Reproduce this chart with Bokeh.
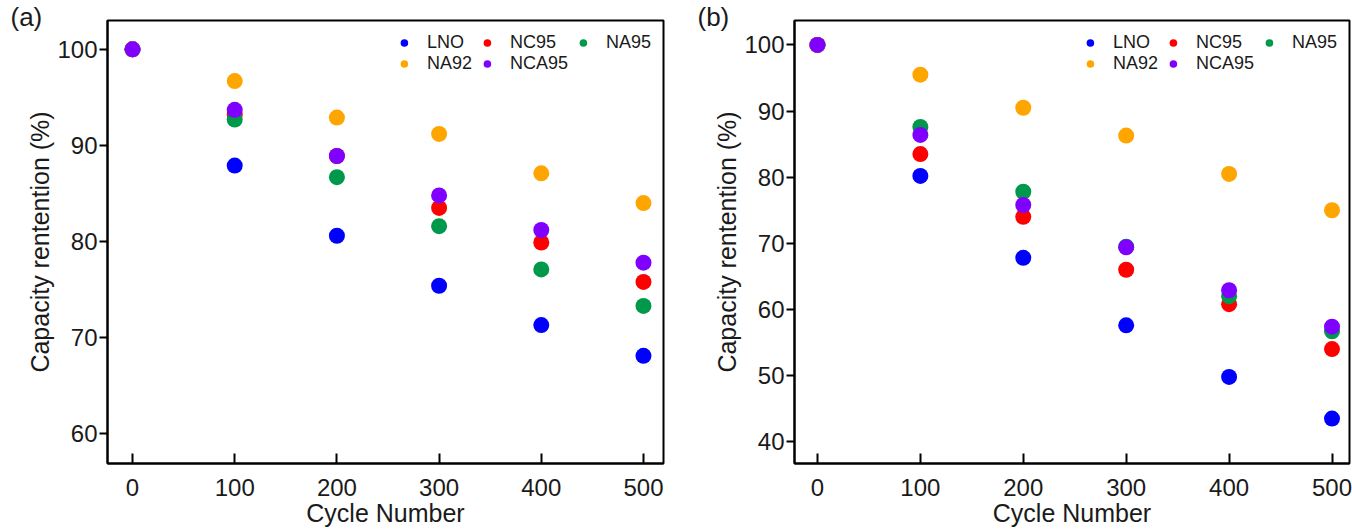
from bokeh.plotting import figure
from bokeh.layouts import row
from bokeh.models import Range1d, Legend, LegendItem, Title, FixedTicker
from bokeh.embed import file_html
from bokeh.resources import INLINE

cycles = [0, 100, 200, 300, 400, 500]
names = ["LNO", "NC95", "NA95", "NA92", "NCA95"]
colors = ["#0000FF", "#FF0000", "#00994C", "#FFA500", "#7F00FF"]

a_LNO = [100, 87.9, 80.6, 75.4, 71.3, 68.1]
a_NC95 = [100, 93.2, 88.9, 83.5, 79.9, 75.8]
a_NA95 = [100, 92.7, 86.7, 81.6, 77.1, 73.3]
a_NA92 = [100, 96.7, 92.9, 91.2, 87.1, 84.0]
a_NCA95 = [100, 93.7, 88.9, 84.8, 81.2, 77.8]

b_LNO = [100, 80.2, 67.8, 57.6, 49.8, 43.5]
b_NC95 = [100, 83.5, 74.0, 66.0, 60.8, 54.0]
b_NA95 = [100, 87.6, 77.8, 69.5, 62.0, 56.7]
b_NA92 = [100, 95.5, 90.5, 86.3, 80.5, 75.0]
b_NCA95 = [100, 86.4, 75.8, 69.4, 62.9, 57.4]

FONT = "Liberation Sans"
TXT = "#1a1a1a"


def make(series, xr, yr, yticks, tag, tag_off, width, left, right):
    p = figure(width=width, height=530, output_backend="svg", toolbar_location=None,
               x_range=Range1d(*xr), y_range=Range1d(*yr),
               min_border_left=left, min_border_right=right,
               min_border_top=20, min_border_bottom=67,
               title=Title(text=tag, align="left", offset=tag_off, standoff=-22,
                           text_font=FONT, text_font_size="26px",
                           text_font_style="normal", text_color=TXT))
    p.grid.visible = False
    p.outline_line_color = "black"
    p.outline_line_width = 2
    p.background_fill_color = "white"
    p.border_fill_color = "white"
    items = []
    for nm, col, ys in zip(names, colors, series):
        r = p.scatter(cycles, ys, size=16, color=col, line_color=None)
        items.append(LegendItem(label=nm, renderers=[r]))
    for ax in (p.xaxis[0], p.yaxis[0]):
        ax.axis_line_width = 2
        ax.major_tick_line_width = 2
        ax.minor_tick_line_color = None
        ax.major_label_text_font = FONT
        ax.major_label_text_font_size = "24px"
        ax.major_label_text_color = TXT
        ax.axis_label_text_font = FONT
        ax.axis_label_text_font_size = "25px"
        ax.axis_label_text_font_style = "normal"
        ax.axis_label_text_color = TXT
    p.xaxis.ticker = FixedTicker(ticks=cycles)
    p.xaxis.major_tick_in = 10
    p.xaxis.major_tick_out = 0
    p.xaxis.major_label_standoff = 15
    p.xaxis.axis_label = "Cycle Number"
    p.xaxis.axis_label_standoff = 0
    p.yaxis.ticker = FixedTicker(ticks=yticks)
    p.yaxis.major_tick_in = 0
    p.yaxis.major_tick_out = 8
    p.yaxis.major_label_standoff = 2
    p.yaxis.axis_label = "Capacity rentention (%)"
    p.yaxis.axis_label_standoff = 0
    leg = Legend(items=items, orientation="horizontal", location="top_right",
                 ncols=3, border_line_color=None, background_fill_alpha=0,
                 label_text_font=FONT, label_text_font_size="18px",
                 label_text_color=TXT, label_height=19,
                 glyph_width=30, glyph_height=19, spacing=0, padding=0, margin=12,
                 label_standoff=8)
    p.add_layout(leg, "center")
    return p


pa = make([a_LNO, a_NC95, a_NA95, a_NA92, a_NCA95], (-24.5, 519.6), (56.9, 103.0),
          [60, 70, 80, 90, 100], "(a)", -97, 690, 107, 27)
pb = make([b_LNO, b_NC95, b_NA95, b_NA92, b_NCA95], (-22.3, 517.0), (36.7, 103.7),
          [40, 50, 60, 70, 80, 90, 100], "(b)", -97, 662, 104, 3)

lay = row(pa, pb)
open("out.html", "w").write(file_html(lay, INLINE))
